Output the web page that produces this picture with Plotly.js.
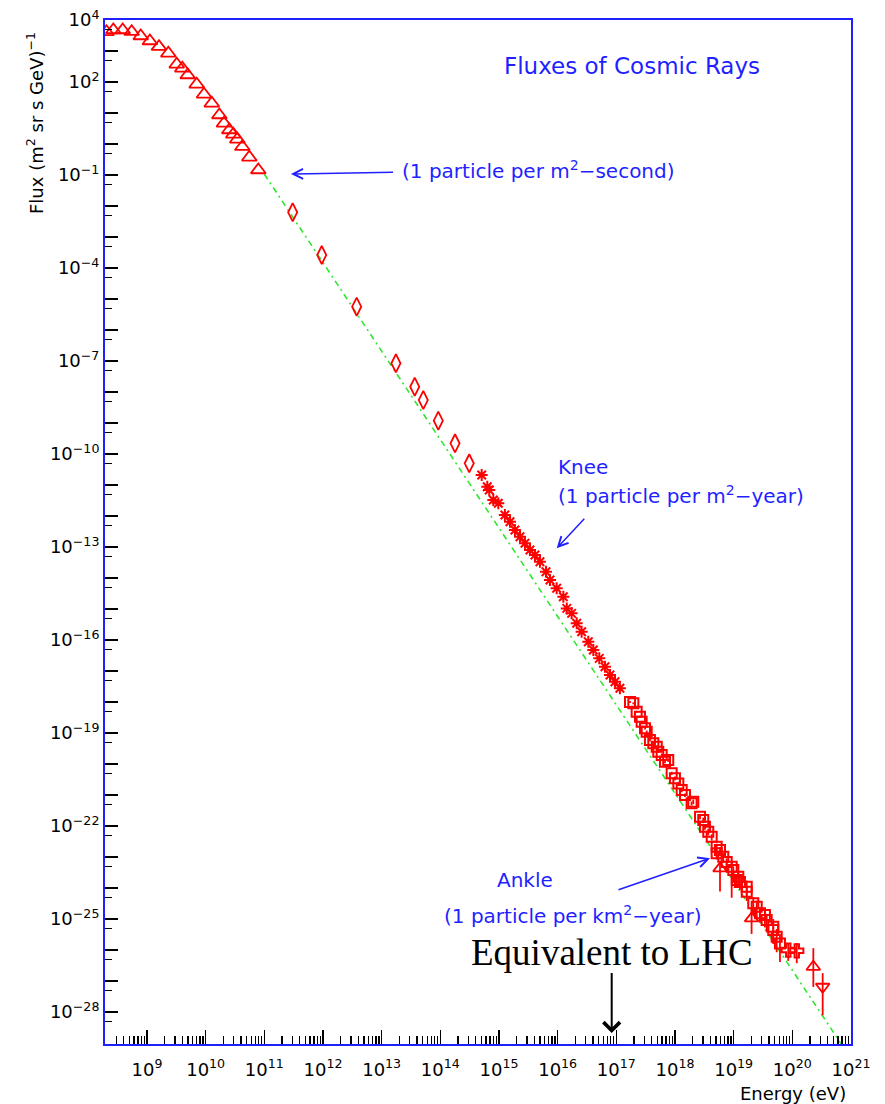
<!DOCTYPE html>
<html>
<head>
<meta charset="utf-8">
<script src="https://cdn.plot.ly/plotly-3.0.1.min.js"></script>
<style>html,body{margin:0;padding:0;background:#fff;}#chart{width:885px;height:1104px;}</style>
</head>
<body>
<div id="chart"></div>
<script>
// ---- data (energy in eV, flux in (m^2 sr s GeV)^-1) ----
const triE    = [2.04e8, 2.67e8, 3.85e8, 5.48e8, 7.82e8, 1.12e9, 1.60e9, 2.31e9, 3.21e9, 4.00e9, 4.94e9, 7.03e9, 9.38e9, 1.27e10, 1.71e10, 2.05e10, 2.53e10, 2.96e10, 3.46e10, 4.21e10, 5.55e10, 7.89e10];
const triFlux = [4.17e3, 4.75e3, 4.75e3, 4.20e3, 3.05e3, 2.10e3, 1.38e3, 843, 372, 277, 168, 84.3, 40.1, 20.6, 8.61, 4.66, 2.83, 2.06, 1.42, 0.818, 0.372, 0.145];

const diaE    = [3.04e11, 9.51e11, 3.75e12, 1.75e13, 3.66e13, 5.12e13, 9.23e13, 1.78e14, 3.11e14];
const diaFlux = [6.27e-3, 2.62e-4, 5.65e-6, 8.43e-8, 1.48e-8, 5.52e-9, 1.19e-9, 2.21e-10, 5.01e-11];

const starE    = [5.07e14, 6.31e14, 6.82e14, 8.00e14, 9.73e14, 1.26e15, 1.54e15, 1.87e15, 2.28e15, 2.77e15, 3.37e15, 4.10e15, 4.99e15, 6.32e15, 7.40e15, 9.62e15, 1.25e16, 1.43e16, 1.73e16, 2.11e16, 2.56e16, 3.33e16, 4.05e16, 5.12e16, 6.40e16, 7.80e16, 9.48e16, 1.15e17];
const starFlux = [2.10e-11, 8.81e-12, 6.90e-12, 3.28e-12, 2.57e-12, 1.08e-12, 6.55e-13, 3.53e-13, 2.15e-13, 1.32e-13, 8.00e-14, 5.52e-14, 3.36e-14, 1.60e-14, 8.61e-15, 4.66e-15, 2.49e-15, 1.05e-15, 7.26e-16, 3.46e-16, 1.85e-16, 8.81e-17, 4.75e-17, 2.57e-17, 1.38e-17, 7.43e-18, 4.52e-18, 2.77e-18];

const sqAE    = [1.71e17, 2.22e17, 2.70e17, 3.29e17, 4.27e17, 5.19e17, 6.75e17, 8.77e17, 1.14e18, 1.48e18, 1.92e18, 2.67e18, 3.24e18, 4.22e18, 5.13e18, 5.85e18, 7.60e18, 9.86e18, 1.13e19, 1.28e19, 1.67e19, 2.16e19, 2.81e19, 3.65e19, 4.73e19, 6.15e19];
const sqAFlux = [1.00e-18, 4.86e-19, 2.32e-19, 1.10e-19, 4.66e-20, 2.49e-20, 1.19e-20, 5.01e-21, 2.38e-21, 1.00e-21, 5.40e-22, 2.00e-22, 9.48e-23, 4.52e-23, 1.32e-23, 1.68e-23, 6.90e-24, 3.81e-24, 1.81e-24, 1.58e-24, 7.60e-25, 3.21e-25, 1.53e-25, 9.29e-26, 4.42e-26, 1.64e-26];
const sqAErrUpDex   = [0.03,0.03,0.03,0.04,0.04,0.04,0.05,0.05,0.05,0.05,0.06,0.06,0.08,0.08,0.10,0.10,0.12,0.12,0.15,0.15,0.15,0.20,0.20,0.20,0.25,0.30];
const sqAErrDownDex = [0.03,0.03,0.03,0.04,0.04,0.04,0.05,0.05,0.06,0.06,0.07,0.08,0.10,0.12,0.20,0.15,0.30,0.20,0.25,0.25,0.30,0.35,0.30,0.40,0.45,0.60];

const sqBE    = [1.95e17, 2.53e17, 3.08e17, 3.74e17, 4.88e17, 5.93e17, 7.67e17, 9.98e17, 1.30e18, 2.05e18, 3.03e18, 3.69e18, 5.13e18, 6.65e18, 9.25e18, 1.20e19, 1.67e19, 2.47e19, 3.41e19, 4.73e19, 5.41e19];
const sqBFlux = [9.08e-19, 3.36e-19, 1.42e-19, 5.94e-20, 3.61e-20, 1.95e-20, 1.35e-20, 3.46e-21, 1.45e-21, 6.08e-22, 1.56e-22, 6.55e-23, 2.15e-23, 1.02e-23, 4.86e-24, 2.31e-24, 1.10e-24, 2.49e-25, 1.35e-25, 5.65e-26, 2.69e-26];
const sqBErrUpDex   = [0.03,0.03,0.04,0.04,0.05,0.05,0.05,0.06,0.06,0.07,0.08,0.10,0.10,0.12,0.15,0.15,0.20,0.20,0.20,0.25,0.25];
const sqBErrDownDex = [0.03,0.03,0.04,0.04,0.05,0.05,0.06,0.06,0.07,0.08,0.10,0.12,0.15,0.20,1.00,0.30,0.30,0.35,0.40,0.50,0.50];

const crossE    = [8.53e19, 1.19e20];
const crossFlux = [1.00e-26, 9.48e-27];
const crossErrUpDex   = [0.20, 0.25];
const crossErrDownDex = [0.35, 0.40];

const triHiE    = [5.85e18, 2.02e19, 2.28e20];
const triHiFlux = [4.32e-24, 1.05e-25, 2.89e-27];
const triHiErrUpDex   = [0.15, 0.30, 0.60];
const triHiErrDownDex = [0.75, 0.50, 0.65];

const triDownE    = [3.29e20];
const triDownFlux = [6.55e-28];
const triDownErrUpDex   = [0.44];
const triDownErrDownDex = [0.92];

// power-law guide line (endpoints)
const fitE    = [1.0e11, 1.0e21];
const fitFlux = [0.106, 3.12e-30];

// tick labels
const xTickExp = [9,10,11,12,13,14,15,16,17,18,19,20,21];
const yLabelExp = [4,2,-1,-4,-7,-10,-13,-16,-19,-22,-25,-28];

// ---- styling ----
const RED = '#ff0000', BLUE = '#1f1fff', GREEN = '#2ee62e';
const errUp = (f, d) => f.map((v,i) => v*(Math.pow(10,d[i])-1));
const errDn = (f, d) => f.map((v,i) => v*(1-Math.pow(10,-d[i])));
function errBars(f, up, dn){
  return {type:'data', symmetric:false, array:errUp(f,up), arrayminus:errDn(f,dn), color:RED, thickness:1.8, width:0};
}
const mk = (sym, size, w) => ({symbol:sym, size:size, color:RED, line:{color:RED, width:w||1.8}});

const traces = [
  {x:fitE, y:fitFlux, mode:'lines', line:{color:GREEN, width:1.6, dash:'6px,4px,2px,4px'}, hoverinfo:'skip'},
  {x:triE, y:triFlux, mode:'markers', marker:mk('triangle-up-open', 13)},
  {x:diaE, y:diaFlux, mode:'markers', marker:mk('diamond-tall-open', 13)},
  {x:starE, y:starFlux, mode:'markers', marker:mk('asterisk-open', 10, 2)},
  {x:sqAE, y:sqAFlux, mode:'markers', marker:mk('square-open', 10, 2), error_y:errBars(sqAFlux, sqAErrUpDex, sqAErrDownDex)},
  {x:sqBE, y:sqBFlux, mode:'markers', marker:mk('square-open', 10, 2), error_y:errBars(sqBFlux, sqBErrUpDex, sqBErrDownDex)},
  {x:crossE, y:crossFlux, mode:'markers', marker:mk('cross-open', 11, 2), error_y:errBars(crossFlux, crossErrUpDex, crossErrDownDex)},
  {x:triHiE, y:triHiFlux, mode:'markers', marker:mk('triangle-up-open', 12), error_y:errBars(triHiFlux, triHiErrUpDex, triHiErrDownDex)},
  {x:triDownE, y:triDownFlux, mode:'markers', marker:mk('triangle-down-open', 12), error_y:errBars(triDownFlux, triDownErrUpDex, triDownErrDownDex)},
  {x:[], y:[], yaxis:'y2', mode:'markers', hoverinfo:'skip'}
];

// ticks
const xTickVals = xTickExp.map(e => Math.pow(10,e));
const xTickText = xTickExp.map(e => '10<sup>'+e+'</sup>');
const xMinor = [];
for (let n=8; n<=20; n++) for (let m=2; m<=9; m++) xMinor.push(m*Math.pow(10,n));
const yTickVals = yLabelExp.map(e => Math.pow(10,e));
const yTickText = yLabelExp.map(e => '10<sup>'+(e<0?'\u2212'+(-e):e)+'</sup>');
const yPlainDecades = [], yMinor = [];
for (let e=-29; e<=4; e++) if (!yLabelExp.includes(e)) yPlainDecades.push(Math.pow(10,e));
for (let e=-30; e<=3; e++) yMinor.push(5*Math.pow(10,e));

const tickFont = {family:'DejaVu Sans', size:18, color:'#000'};
const blueFont = (s) => ({family:'DejaVu Sans', size:s, color:BLUE});

const PX0 = 105, PW = 746, PY1 = 1044, PH = 1024;
const px = v => (v-PX0)/PW, py = v => (PY1-v)/PH;

const annotations = [
  {text:'Fluxes of Cosmic Rays', x:px(632), y:py(66), xref:'paper', yref:'paper', showarrow:false, font:blueFont(23), xanchor:'center', yanchor:'middle'},
  {text:'(1 particle per m<sup>2</sup>\u2212second)', x:px(291), y:py(174), xref:'paper', yref:'paper', showarrow:true,
   ax:(398+678)/2-291, ay:-4, arrowhead:5, arrowsize:1.3, arrowwidth:1.5, arrowcolor:BLUE, standoff:0, borderpad:8, font:blueFont(20)},
  {text:'Knee', x:px(556), y:py(467), xref:'paper', yref:'paper', showarrow:false, font:blueFont(20), xanchor:'left', yanchor:'middle'},
  {text:'(1 particle per m<sup>2</sup>\u2212year)', x:px(556), y:py(495), xref:'paper', yref:'paper', showarrow:false, font:blueFont(20), xanchor:'left', yanchor:'middle'},
  {text:'', x:px(556.7), y:py(548.3), xref:'paper', yref:'paper', showarrow:true, ax:29, ay:-31, arrowhead:5, arrowsize:1.3, arrowwidth:1.5, arrowcolor:BLUE},
  {text:'Ankle', x:px(525), y:py(880), xref:'paper', yref:'paper', showarrow:false, font:blueFont(20), xanchor:'center', yanchor:'middle'},
  {text:'(1 particle per km<sup>2</sup>\u2212year)', x:px(442), y:py(915), xref:'paper', yref:'paper', showarrow:false, font:blueFont(20), xanchor:'left', yanchor:'middle'},
  {text:'', x:px(710), y:py(858.3), xref:'paper', yref:'paper', showarrow:true, ax:-93, ay:32, arrowhead:5, arrowsize:1.3, arrowwidth:1.5, arrowcolor:BLUE},
  {text:'Equivalent to LHC', x:px(611.7), y:py(1033), xref:'paper', yref:'paper', showarrow:true, ax:0, ay:952-1033,
   arrowhead:4, arrowsize:1.6, arrowwidth:2, arrowcolor:'#000', standoff:0, borderpad:0, font:{family:'Liberation Serif', size:37, color:'#000'}},
  {text:'Flux (m<sup>2</sup> sr s GeV)<sup>\u22121</sup>', x:px(35), y:py(123), xref:'paper', yref:'paper', showarrow:false, textangle:-90, font:{family:'DejaVu Sans', size:18, color:'#000'}, xanchor:'center', yanchor:'middle'},
  {text:'Energy (eV)', x:px(848), y:py(1093), xref:'paper', yref:'paper', showarrow:false, font:{family:'DejaVu Sans', size:18, color:'#000'}, xanchor:'right', yanchor:'middle'}
];

const layout = {
  width:885, height:1104,
  margin:{l:105, r:34, t:20, b:60},
  paper_bgcolor:'#fff', plot_bgcolor:'#fff',
  showlegend:false,
  xaxis:{type:'log', range:[8.284, 21], showline:true, linecolor:BLUE, linewidth:2, mirror:true,
    showgrid:false, zeroline:false, ticks:'inside', ticklen:14, tickwidth:1.5, tickcolor:'#000',
    tickmode:'array', tickvals:xTickVals, ticktext:xTickText, tickfont:tickFont, ticklabelstandoff:8,
    minor:{ticks:'inside', ticklen:8, tickwidth:1.5, tickcolor:'#000', tickmode:'array', tickvals:xMinor, showgrid:false}},
  yaxis:{type:'log', range:[-29.03, 4], showline:true, linecolor:BLUE, linewidth:2, mirror:true,
    showgrid:false, zeroline:false, ticks:'inside', ticklen:13, tickwidth:1.5, tickcolor:'#000',
    tickmode:'array', tickvals:yTickVals, ticktext:yTickText, tickfont:tickFont,
    minor:{ticks:'inside', ticklen:7, tickwidth:1.5, tickcolor:'#000', tickmode:'array', tickvals:yMinor, showgrid:false}},
  yaxis2:{type:'log', range:[-29.03, 4], overlaying:'y', side:'left', showline:false, showgrid:false, zeroline:false,
    ticks:'inside', ticklen:13, tickwidth:1.5, tickcolor:'#000', tickmode:'array', tickvals:yPlainDecades, showticklabels:false},
  annotations:annotations
};

Plotly.newPlot('chart', traces, layout, {staticPlot:true, displayModeBar:false});
</script>
</body>
</html>
